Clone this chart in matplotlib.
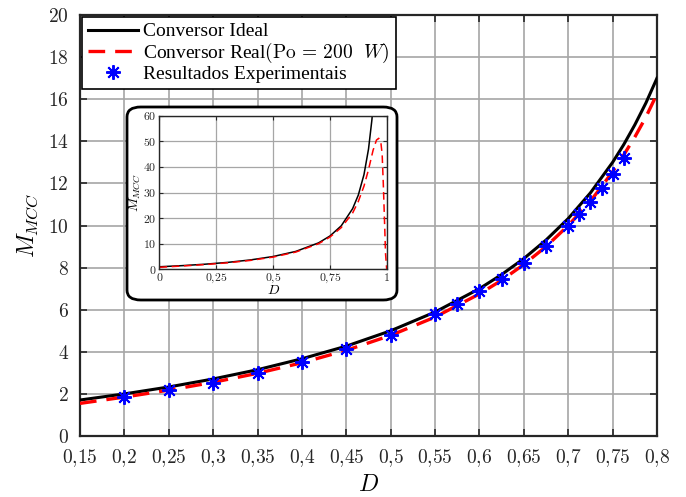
"""Ganho estatico M_MCC vs D: ideal, real (Po = 200 W) e pontos experimentais."""

import matplotlib
matplotlib.use('Agg')
import matplotlib.pyplot as plt
from matplotlib.patches import FancyBboxPatch

plt.rcParams['mathtext.fontset'] = 'cm'
plt.rcParams['font.family'] = ['Liberation Serif', 'DejaVu Serif']

# ---- main plot data ----
d_ideal = [0.15, 0.2, 0.25, 0.3, 0.35, 0.4, 0.45, 0.5, 0.55, 0.6, 0.625,
           0.65, 0.675, 0.7, 0.725, 0.75, 0.7625, 0.775, 0.7875, 0.8]
m_ideal = [1.71, 2.0, 2.33, 2.71, 3.15, 3.67, 4.27, 5.0, 5.89, 7.0, 7.67,
           8.43, 9.31, 10.33, 11.55, 13.0, 13.84, 14.78, 15.82, 17.0]

d_real = [0.15, 0.2, 0.25, 0.3, 0.35, 0.4, 0.45, 0.5, 0.55, 0.6, 0.625,
          0.65, 0.675, 0.7, 0.725, 0.75, 0.7625, 0.775, 0.7875, 0.8]
m_real = [1.55, 1.85, 2.18, 2.55, 2.98, 3.48, 4.07, 4.78, 5.65, 6.75, 7.4,
          8.15, 9.0, 10.0, 11.15, 12.55, 13.35, 14.2, 15.15, 16.25]

d_exp = [0.2, 0.25, 0.3, 0.35, 0.4, 0.45, 0.5, 0.55, 0.575, 0.6, 0.625,
         0.65, 0.675, 0.7, 0.7125, 0.725, 0.7375, 0.75, 0.7625]
m_exp = [1.87, 2.19, 2.53, 3.01, 3.50, 4.15, 4.81, 5.80, 6.26, 6.89, 7.44,
         8.20, 9.03, 9.98, 10.55, 11.13, 11.77, 12.45, 13.19]

x_ticks = [0.15, 0.2, 0.25, 0.3, 0.35, 0.4, 0.45, 0.5, 0.55, 0.6, 0.65,
           0.7, 0.75, 0.8]
x_labels = ['0,15', '0,2', '0,25', '0,3', '0,35', '0,4', '0,45', '0,5',
            '0,55', '0,6', '0,65', '0,7', '0,75', '0,8']
y_ticks = list(range(0, 21, 2))

# ---- inset data (full range of D) ----
d_ideal_in = [0.0, 0.1, 0.2, 0.3, 0.4, 0.5, 0.6, 0.7, 0.75, 0.8, 0.85,
              0.875, 0.9, 0.92, 0.935, 0.94]
m_ideal_in = [1.0, 1.44, 2.0, 2.71, 3.67, 5.0, 7.0, 10.33, 13.0, 17.0, 23.7,
              29.0, 37.0, 47.0, 58.5, 64.0]
d_real_in = [0.0, 0.1, 0.2, 0.3, 0.4, 0.5, 0.6, 0.7, 0.75, 0.8, 0.85, 0.875,
             0.9, 0.92, 0.94, 0.955, 0.965, 0.975, 0.98, 0.985, 0.99, 0.995, 1.0]
m_real_in = [0.8, 1.3, 1.85, 2.55, 3.48, 4.78, 6.75, 10.0, 12.6, 16.3, 22.0,
             26.5, 32.5, 39.0, 46.5, 50.5, 51.2, 49.0, 45.0, 33.5, 20.0, 6.0, 0.0]
x_ticks_in = [0, 0.25, 0.5, 0.75, 1]
x_labels_in = ['0', '0,25', '0,5', '0,75', '1']
y_ticks_in = [0, 10, 20, 30, 40, 50, 60]

GRID = '#a6a6a6'
SPINE = '#262626'


def math(s):
    return '$' + s.replace(',', '{,}') + '$'


fig = plt.figure(figsize=(6.86, 4.97), dpi=100)
ax = fig.add_axes([0.1166, 0.1227, 0.8411, 0.8471])

ax.plot(d_ideal, m_ideal, color='black', lw=2.2, label='Conversor Ideal', zorder=3)
ax.plot(d_real, m_real, color='red', lw=2.4, ls=(0, (5, 3)),
        label=r'Conversor Real$(\mathrm{Po}\,=\,200\ \ W)$', zorder=4)
ax.plot(d_exp, m_exp, ls='none', marker=(8, 2, 0), ms=10.5, mew=1.4,
        color='blue', label='Resultados Experimentais', zorder=5)

ax.set_xlim(0.15, 0.8)
ax.set_ylim(0, 20)
ax.set_xticks(x_ticks)
ax.set_xticklabels([math(s) for s in x_labels])
ax.set_yticks(y_ticks)
ax.set_yticklabels([math(str(v)) for v in y_ticks])
ax.tick_params(direction='in', length=5, width=1.2, labelsize=14, top=True,
               right=True, colors=SPINE, labelcolor='#262626', pad=8)
ax.grid(True, color=GRID, lw=1.2)
for s in ax.spines.values():
    s.set_color(SPINE)
    s.set_linewidth(1.6)
ax.set_xlabel(r'$D$', fontsize=17, labelpad=4)
ax.set_ylabel(r'$M_{MCC}$', fontsize=17, labelpad=6)

leg = ax.legend(loc='upper left', bbox_to_anchor=(0.0, 1.0), fontsize=14,
                frameon=True, fancybox=False, edgecolor='black',
                borderpad=0.3, labelspacing=0.02, handlelength=2.6,
                handletextpad=0.25, borderaxespad=0.1)
leg.get_frame().set_linewidth(1.2)
leg.get_frame().set_alpha(1)

# rounded frame behind the inset
box = FancyBboxPatch((127 / 686, 1 - 300 / 497), 270 / 686, 193 / 497,
                     boxstyle='round,pad=0,rounding_size=0.02',
                     transform=fig.transFigure, facecolor='white',
                     edgecolor='black', lw=2, zorder=10)
fig.patches.append(box)

axin = fig.add_axes([0.2325, 0.4581, 0.3312, 0.309], zorder=11)
axin.plot(d_ideal_in, m_ideal_in, color='black', lw=1.1)
axin.plot(d_real_in, m_real_in, color='red', lw=1.1, ls=(0, (5, 3)))
axin.set_xlim(0, 1)
axin.set_ylim(0, 60)
axin.set_xticks(x_ticks_in)
axin.set_xticklabels([math(s) for s in x_labels_in])
axin.set_yticks(y_ticks_in)
axin.set_yticklabels([math(str(v)) for v in y_ticks_in])
axin.tick_params(direction='in', length=3, width=0.8, labelsize=8.5,
                 top=True, right=True, colors=SPINE, labelcolor='#262626',
                 pad=2)
axin.grid(True, color=GRID, lw=0.9)
for s in axin.spines.values():
    s.set_color(SPINE)
    s.set_linewidth(1.0)
axin.set_xlabel(r'$D$', fontsize=10, labelpad=-1)
axin.set_ylabel(r'$M_{MCC}$', fontsize=10, labelpad=0)

fig.savefig('out.png', dpi=100)
